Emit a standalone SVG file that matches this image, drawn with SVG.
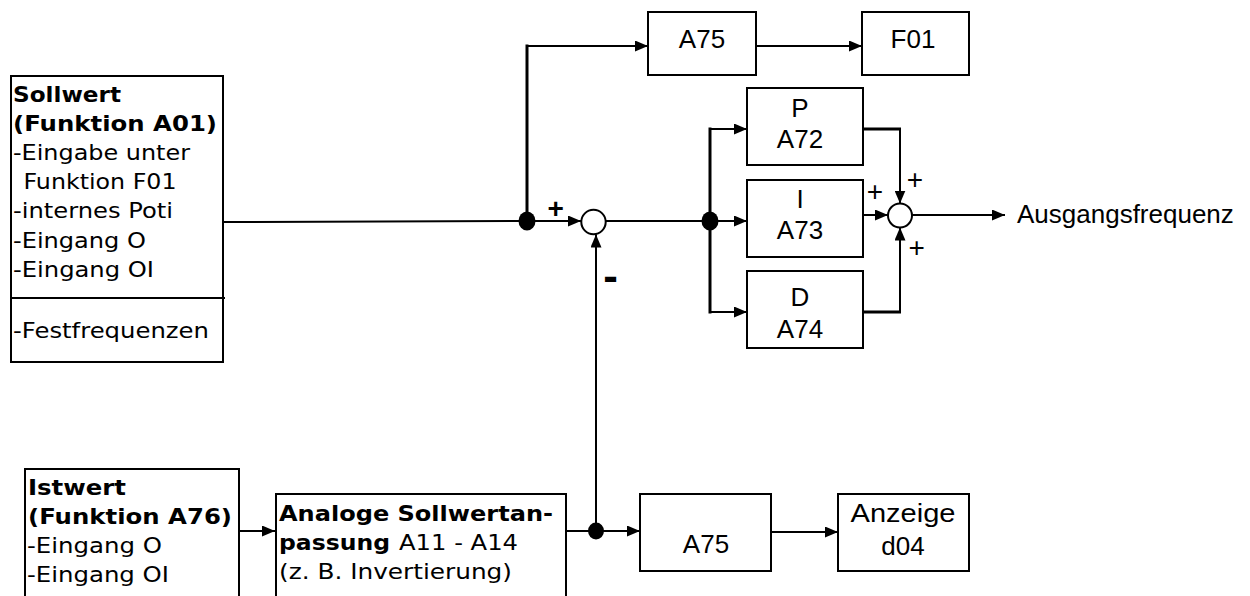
<svg xmlns="http://www.w3.org/2000/svg" width="1250" height="596" viewBox="0 0 1250 596">
<style>
.box{fill:#fff;stroke:#000;stroke-width:2}
.ln{fill:none;stroke:#000;stroke-width:2}
.thk{fill:none;stroke:#000;stroke-width:3}
.arr{marker-end:url(#ah)}
.dot{fill:#000}
.sum{fill:#fff;stroke:#000;stroke-width:2}
.v{font-family:"DejaVu Sans","Verdana",sans-serif;font-size:22px;fill:#000}
.vb{font-family:"DejaVu Sans","Verdana",sans-serif;font-size:22px;font-weight:bold;fill:#000}
.a{font-family:"Liberation Sans",Arial,sans-serif;font-size:26px;fill:#000;text-anchor:middle}
.al{font-family:"Liberation Sans",Arial,sans-serif;font-size:26px;fill:#000}
.pl{font-family:"Liberation Sans",Arial,sans-serif;font-size:28px;fill:#000;text-anchor:middle}
.pb{font-family:"Liberation Sans",Arial,sans-serif;font-size:28px;font-weight:bold;fill:#000;text-anchor:middle}
.mb{font-family:"Liberation Sans",Arial,sans-serif;font-size:44px;font-weight:bold;fill:#000;text-anchor:middle}
</style>
<defs>
<marker id="ah" markerUnits="userSpaceOnUse" viewBox="0 0 13 11" refX="13" refY="5.5" markerWidth="13" markerHeight="11" orient="auto">
<path d="M0,0 L13,5.5 L0,11 z" fill="#000"/>
</marker>
</defs>

<g id="connectors">
<path class="ln" d="M223,222 L527,221"/>
<path class="thk" d="M527,221 V44.5"/>
<path class="ln arr" d="M526,46 H648"/>
<path class="ln arr" d="M756,46 H862"/>
<path class="ln arr" d="M535,221 H581"/>
<path class="ln" d="M606,221 H710"/>
<path class="thk" d="M710,127.5 V313.5"/>
<path class="ln arr" d="M709,129 H747"/>
<path class="ln arr" d="M718,221 H747"/>
<path class="ln arr" d="M709,312 H747"/>
<path class="thk" d="M863,129 H901"/>
<path class="ln arr" d="M900,128 V203.5"/>
<path class="ln arr" d="M863,215 H888"/>
<path class="thk" d="M863,312 H901"/>
<path class="ln arr" d="M900,313 V227.5"/>
<path class="ln arr" d="M912,215 H1005"/>
<path class="ln arr" d="M596,531 V234.5"/>
<path class="ln arr" d="M239,531 H275"/>
<path class="ln" d="M566,531 H596"/>
<path class="ln arr" d="M596,531 H640"/>
<path class="ln arr" d="M771,532 H838"/>
<ellipse class="dot" cx="527" cy="221" rx="8.5" ry="9.5"/>
<ellipse class="dot" cx="710" cy="221" rx="8.5" ry="9.5"/>
<ellipse class="dot" cx="596" cy="531" rx="8" ry="8.5"/>
</g>

<g id="sum1">
<circle class="sum" cx="593.5" cy="222" r="12.2"/>
<text class="pb" x="555.8" y="218">+</text>
<text class="mb" x="610.5" y="290.5">-</text>
</g>

<g id="sum2">
<circle class="sum" cx="900" cy="215.5" r="12"/>
<text class="pl" x="875" y="200.8">+</text>
<text class="pl" x="915" y="189.3">+</text>
<text class="pl" x="916.7" y="256.8">+</text>
</g>

<g id="sollwert">
<rect class="box" x="11" y="76" width="212" height="286"/>
<path class="ln" d="M11,298 H225"/>
<text class="vb" x="13" y="102" textLength="108" lengthAdjust="spacingAndGlyphs">Sollwert</text>
<text class="vb" x="13" y="131" textLength="204" lengthAdjust="spacingAndGlyphs">(Funktion A01)</text>
<text class="v" x="13" y="160" textLength="177" lengthAdjust="spacingAndGlyphs">-Eingabe unter</text>
<text class="v" x="23.5" y="189" textLength="153" lengthAdjust="spacingAndGlyphs">Funktion F01</text>
<text class="v" x="13" y="218" textLength="160" lengthAdjust="spacingAndGlyphs">-internes Poti</text>
<text class="v" x="13" y="247.5" textLength="133" lengthAdjust="spacingAndGlyphs">-Eingang O</text>
<text class="v" x="13" y="276.5" textLength="141" lengthAdjust="spacingAndGlyphs">-Eingang OI</text>
<text class="v" x="13" y="337.5" textLength="196" lengthAdjust="spacingAndGlyphs">-Festfrequenzen</text>
</g>

<g id="a75top">
<rect class="box" x="648" y="12" width="108" height="63"/>
<text class="a" x="702" y="48">A75</text>
</g>

<g id="f01">
<rect class="box" x="862" y="12" width="107" height="63"/>
<text class="a" x="913" y="48">F01</text>
</g>

<g id="p">
<rect class="box" x="747" y="88" width="116" height="77"/>
<text class="a" x="800" y="117">P</text>
<text class="a" x="800" y="148">A72</text>
</g>

<g id="i">
<rect class="box" x="747" y="180" width="116" height="77"/>
<text class="a" x="800" y="207.5">I</text>
<text class="a" x="800" y="238.5">A73</text>
</g>

<g id="d">
<rect class="box" x="747" y="271" width="116" height="77"/>
<text class="a" x="800" y="306">D</text>
<text class="a" x="800" y="337.5">A74</text>
</g>

<g id="ausgang">
<text class="al" x="1017" y="222.5">Ausgangsfrequenz</text>
</g>

<g id="istwert">
<path class="ln" d="M25,600 V469 H239 V600"/>
<text class="vb" x="28" y="494.5" textLength="98" lengthAdjust="spacingAndGlyphs">Istwert</text>
<text class="vb" x="28" y="524" textLength="204" lengthAdjust="spacingAndGlyphs">(Funktion A76)</text>
<text class="v" x="27" y="552.5" textLength="135" lengthAdjust="spacingAndGlyphs">-Eingang O</text>
<text class="v" x="27" y="582" textLength="142" lengthAdjust="spacingAndGlyphs">-Eingang OI</text>
</g>

<g id="analog">
<path class="ln" d="M276,600 V494 H566 V600"/>
<text class="vb" x="279" y="521" textLength="274" lengthAdjust="spacingAndGlyphs">Analoge Sollwertan-</text>
<text class="vb" x="279" y="549.5" textLength="111" lengthAdjust="spacingAndGlyphs">passung</text>
<text class="v" x="399" y="549.5" textLength="119" lengthAdjust="spacingAndGlyphs">A11 - A14</text>
<text class="v" x="279" y="578.5" textLength="233" lengthAdjust="spacingAndGlyphs">(z. B. Invertierung)</text>
</g>

<g id="a75bottom">
<rect class="box" x="640" y="494" width="131" height="77"/>
<text class="a" x="706" y="553">A75</text>
</g>

<g id="anzeige">
<rect class="box" x="838" y="494" width="131" height="77"/>
<text class="a" x="903" y="522" textLength="105" lengthAdjust="spacingAndGlyphs">Anzeige</text>
<text class="a" x="903" y="555">d04</text>
</g>
</svg>
